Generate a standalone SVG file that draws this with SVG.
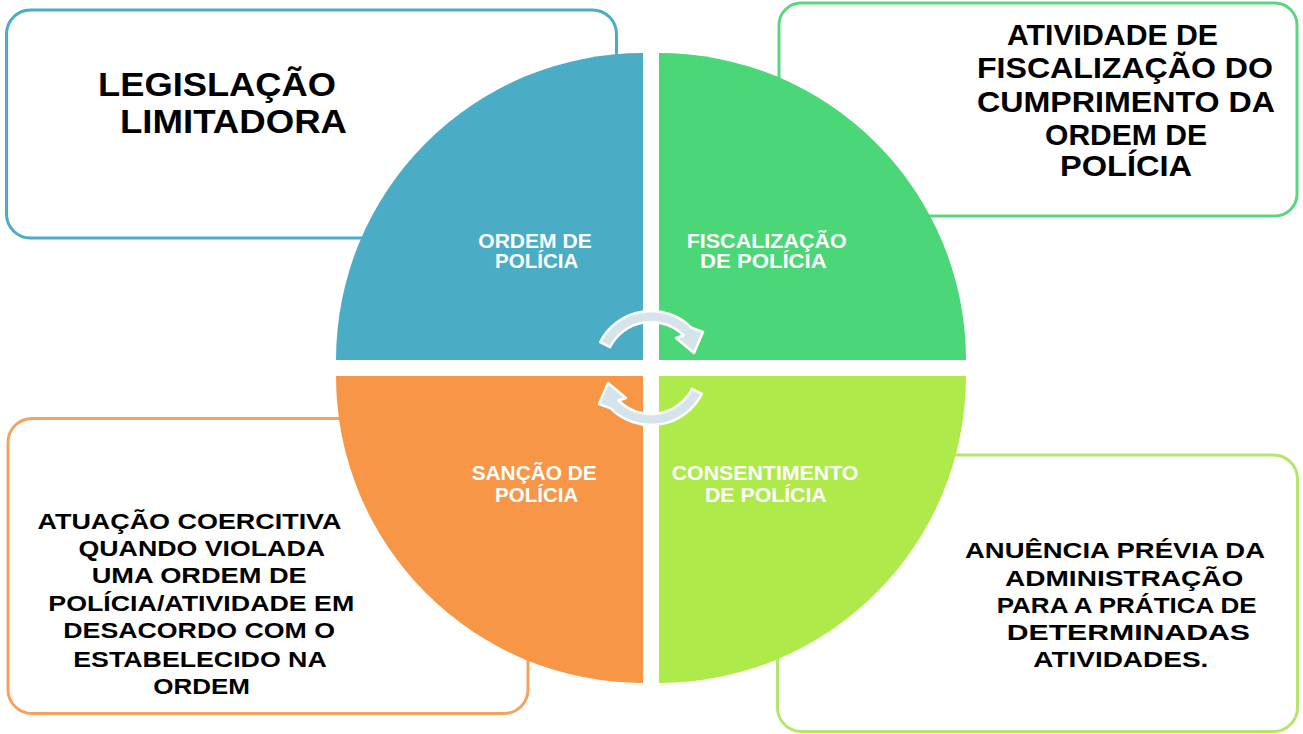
<svg xmlns="http://www.w3.org/2000/svg" width="1303" height="734" viewBox="0 0 1303 734">
<defs>
<style>
.box{fill:#ffffff;stroke-width:3}
.bt{font-family:"Liberation Sans",Arial,sans-serif;font-weight:bold;fill:#000000}
.ql{font-family:"Liberation Sans",Arial,sans-serif;font-weight:bold;fill:#ffffff;font-size:20px}
.arr{fill:#D5E3EA;stroke:#ffffff;stroke-width:2.5;stroke-linejoin:round}
</style>
</defs>
<rect x="0" y="0" width="1303" height="734" fill="#ffffff"/>

<g id="box-legislacao">
<rect class="box" x="6.5" y="10" width="610" height="228" rx="24" stroke="#4BACC6"/>
<text class="bt" font-size="34" x="98" y="95.5" textLength="238" lengthAdjust="spacingAndGlyphs">LEGISLAÇÃO</text>
<text class="bt" font-size="34" x="120" y="133" textLength="227" lengthAdjust="spacingAndGlyphs">LIMITADORA</text>
</g>

<g id="box-atividade">
<rect class="box" x="779" y="3" width="518" height="213" rx="22" stroke="#5AD681"/>
<g class="bt" font-size="30">
<text x="1007" y="45" textLength="211" lengthAdjust="spacingAndGlyphs">ATIVIDADE DE</text>
<text x="977" y="78" textLength="296" lengthAdjust="spacingAndGlyphs">FISCALIZAÇÃO DO</text>
<text x="977" y="111.5" textLength="298" lengthAdjust="spacingAndGlyphs">CUMPRIMENTO DA</text>
<text x="1045" y="145" textLength="162" lengthAdjust="spacingAndGlyphs">ORDEM DE</text>
<text x="1060" y="175.5" textLength="132" lengthAdjust="spacingAndGlyphs">POLÍCIA</text>
</g>
</g>

<g id="box-atuacao">
<rect class="box" x="8" y="418.5" width="520" height="295" rx="24" stroke="#F5A25E"/>
<g class="bt" font-size="22">
<text x="37.5" y="528.5" textLength="304" lengthAdjust="spacingAndGlyphs">ATUAÇÃO COERCITIVA</text>
<text x="78.5" y="555.5" textLength="246.5" lengthAdjust="spacingAndGlyphs">QUANDO VIOLADA</text>
<text x="91.7" y="583.3" textLength="215" lengthAdjust="spacingAndGlyphs">UMA ORDEM DE</text>
<text x="48.3" y="611" textLength="306" lengthAdjust="spacingAndGlyphs">POLÍCIA/ATIVIDADE EM</text>
<text x="63.3" y="638.3" textLength="271.7" lengthAdjust="spacingAndGlyphs">DESACORDO COM O</text>
<text x="73.3" y="666.5" textLength="253.4" lengthAdjust="spacingAndGlyphs">ESTABELECIDO NA</text>
<text x="153.3" y="694" textLength="96.7" lengthAdjust="spacingAndGlyphs">ORDEM</text>
</g>
</g>

<g id="box-anuencia">
<rect class="box" x="777.5" y="455" width="520" height="276.5" rx="24" stroke="#B5E56F"/>
<g class="bt" font-size="22">
<text x="965" y="558.3" textLength="300" lengthAdjust="spacingAndGlyphs">ANUÊNCIA PRÉVIA DA</text>
<text x="1005" y="586" textLength="238.3" lengthAdjust="spacingAndGlyphs">ADMINISTRAÇÃO</text>
<text x="996.7" y="613.3" textLength="260" lengthAdjust="spacingAndGlyphs">PARA A PRÁTICA DE</text>
<text x="1006.7" y="640" textLength="243.3" lengthAdjust="spacingAndGlyphs">DETERMINADAS</text>
<text x="1033.3" y="667.3" textLength="175" lengthAdjust="spacingAndGlyphs">ATIVIDADES.</text>
</g>
</g>

<g id="node-ordem">
<path d="M643 360 L336 360 A307 307 0 0 1 643 53 Z" fill="#4BACC6"/>
<text class="ql" x="478.3" y="248" textLength="113.4" lengthAdjust="spacingAndGlyphs">ORDEM DE</text>
<text class="ql" x="495" y="268" textLength="83.3" lengthAdjust="spacingAndGlyphs">POLÍCIA</text>
</g>

<g id="node-fiscalizacao">
<path d="M659 360 L659 53 A307 307 0 0 1 966 360 Z" fill="#4BD778"/>
<text class="ql" x="686.7" y="248" textLength="160" lengthAdjust="spacingAndGlyphs">FISCALIZAÇÃO</text>
<text class="ql" x="700" y="268" textLength="126.7" lengthAdjust="spacingAndGlyphs">DE POLÍCIA</text>
</g>

<g id="node-sancao">
<path d="M643 376 L643 683 A307 307 0 0 1 336 376 Z" fill="#F79646"/>
<text class="ql" x="471.7" y="480" textLength="125" lengthAdjust="spacingAndGlyphs">SANÇÃO DE</text>
<text class="ql" x="495" y="501.7" textLength="83.3" lengthAdjust="spacingAndGlyphs">POLÍCIA</text>
</g>

<g id="node-consentimento">
<path d="M659 376 L966 376 A307 307 0 0 1 659 683 Z" fill="#AEEA4A"/>
<text class="ql" x="671.7" y="480" textLength="186.7" lengthAdjust="spacingAndGlyphs">CONSENTIMENTO</text>
<text class="ql" x="705" y="501.7" textLength="121.7" lengthAdjust="spacingAndGlyphs">DE POLÍCIA</text>
</g>

<g id="connectors">
<path id="arrow-top" class="arr" d="M600.2 342.1 A57 57 0 0 1 691.3 327.7 L703 332 L694 353 L676 338 L683.5 335.5 A46 46 0 0 0 610 347.1 Z"/>
<path id="arrow-bottom" class="arr" transform="rotate(180 651 368)" d="M600.2 342.1 A57 57 0 0 1 691.3 327.7 L703 332 L694 353 L676 338 L683.5 335.5 A46 46 0 0 0 610 347.1 Z"/>
</g>
</svg>
